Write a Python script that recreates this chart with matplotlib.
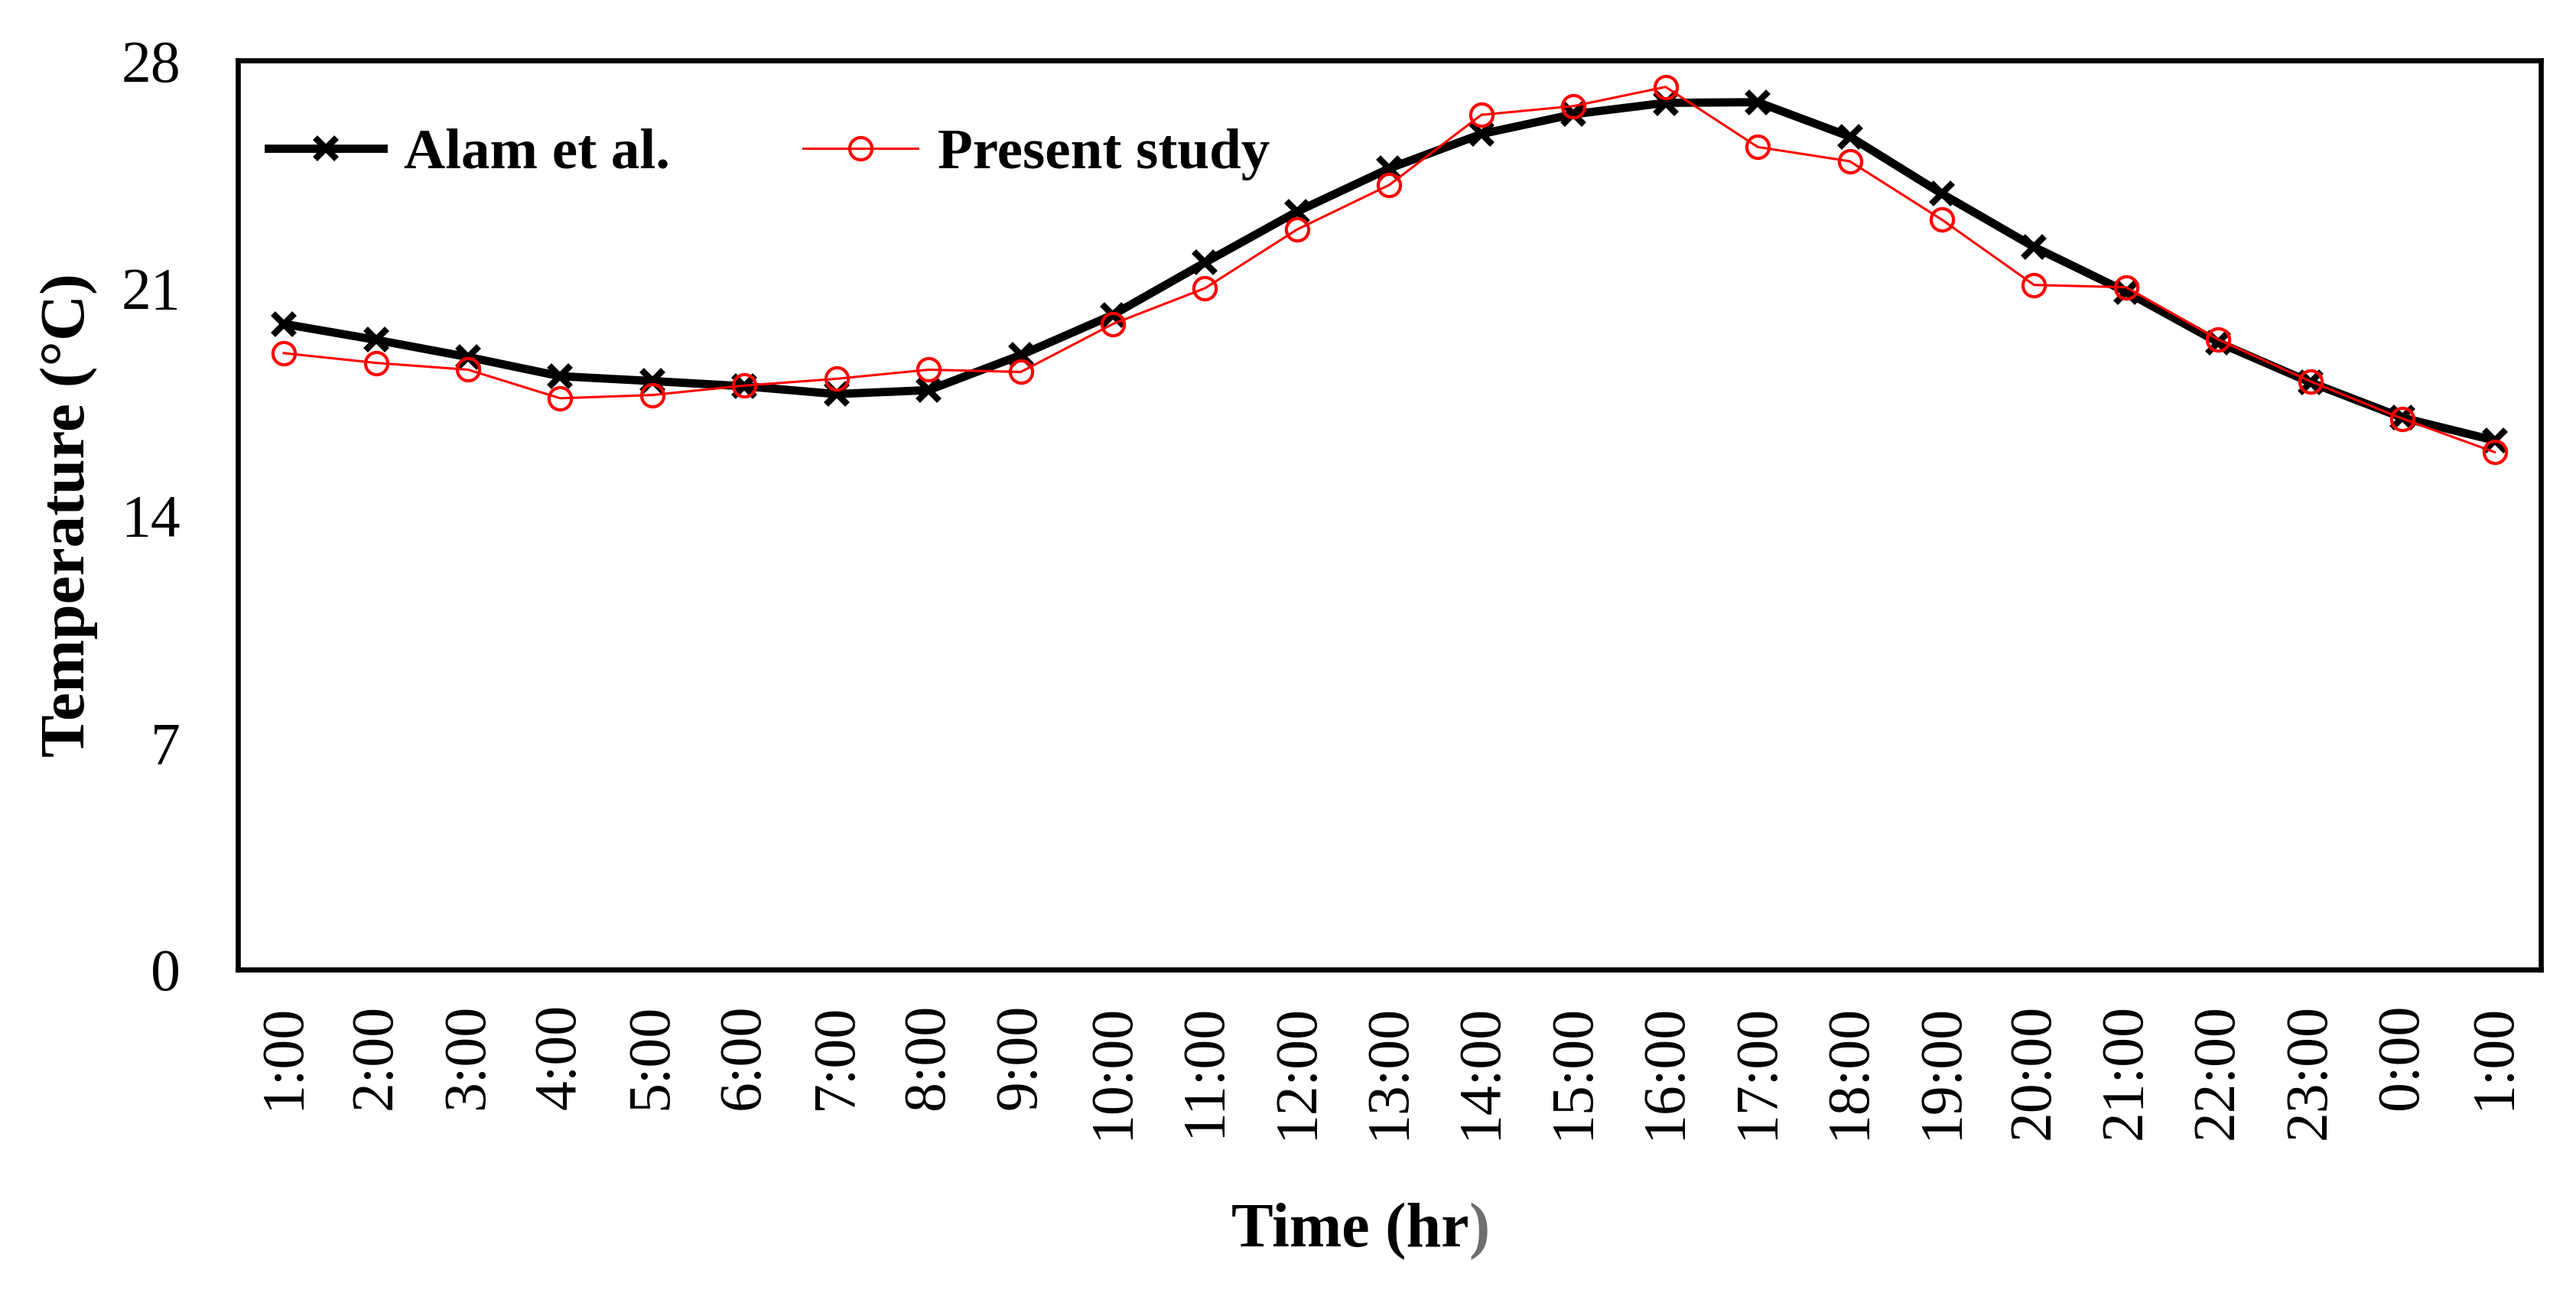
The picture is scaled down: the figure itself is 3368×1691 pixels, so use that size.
import matplotlib
matplotlib.use("Agg")
import matplotlib.pyplot as plt

times = ["1:00", "2:00", "3:00", "4:00", "5:00", "6:00", "7:00", "8:00", "9:00",
         "10:00", "11:00", "12:00", "13:00", "14:00", "15:00", "16:00", "17:00",
         "18:00", "19:00", "20:00", "21:00", "22:00", "23:00", "0:00", "1:00"]
alam = [19.89, 19.40, 18.87, 18.28, 18.13, 17.97, 17.73, 17.85, 18.93, 20.17,
        21.78, 23.35, 24.68, 25.74, 26.35, 26.70, 26.72, 25.66, 23.90, 22.26,
        20.88, 19.32, 18.09, 17.00, 16.30]
present = [18.99, 18.69, 18.48, 17.60, 17.70, 17.99, 18.20, 18.48, 18.41, 19.89,
           20.99, 22.80, 24.17, 26.33, 26.60, 27.19, 25.34, 24.90, 23.10, 21.09,
           21.02, 19.41, 18.12, 16.97, 15.94]
yticks = [0, 7, 14, 21, 28]

plt.rcParams['font.family'] = ['Liberation Serif', 'DejaVu Serif']

fig = plt.figure(figsize=(16.84, 8.455), dpi=200)
ax = fig.add_axes([0.0923, 0.2501, 0.894, 0.703])

x = list(range(len(times)))
ax.plot(x, alam, color='black', lw=3.9, marker='x', ms=10, mew=3.0,
        label='Alam et al.')
ax.plot(x, present, color='#ff0000', lw=1.1, marker='o', ms=10.5, mew=1.5,
        mfc='none', mec='#ff0000', label='Present study')

ax.set_xlim(-0.5, len(times) - 0.5)
ax.set_ylim(0, 28)
ax.set_yticks(yticks)
ax.set_yticklabels([str(v) for v in yticks], fontsize=28)
ax.set_xticks(x)
ax.set_xticklabels(times, rotation=90, fontsize=28)
ax.tick_params(axis='both', length=0)
ax.tick_params(axis='y', pad=27)
ax.tick_params(axis='x', pad=16)

for s in ax.spines.values():
    s.set_linewidth(2.4)

ax.set_ylabel('Temperature (°C)', fontsize=30, fontweight='bold', labelpad=11)
ax.set_xlabel('Time (hr', fontsize=29.5, fontweight='bold', labelpad=30, x=0.483)
ax.annotate(')', xy=(1.0, 0.0), xycoords=ax.xaxis.label, ha='left', va='bottom',
            fontsize=29.5, fontweight='bold', color='#6e6e6e')

leg = ax.legend(loc='upper left', ncol=2, frameon=False, fontsize=27,
                handlelength=2.0, columnspacing=2.33, handletextpad=0.35,
                bbox_to_anchor=(-0.004, 0.97), borderaxespad=0.3)
for t in leg.get_texts():
    t.set_fontweight('bold')

fig.savefig('out.png', dpi=200)
